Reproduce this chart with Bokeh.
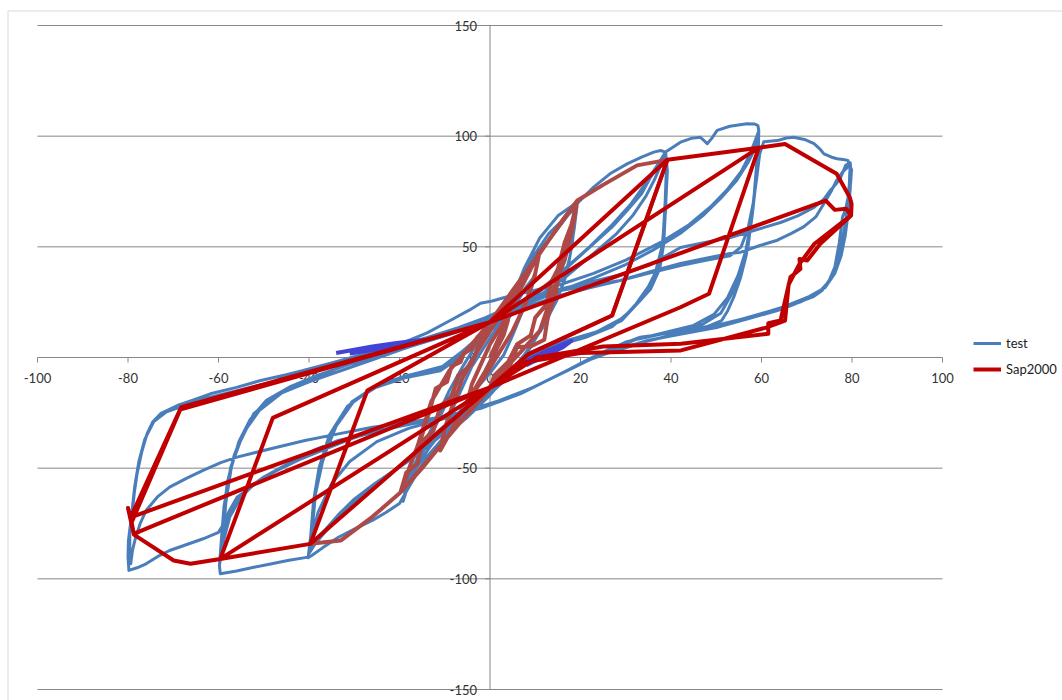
from bokeh.plotting import figure
from bokeh.models import Range1d, Legend, LegendItem
from bokeh.core.properties import value
from bokeh.embed import file_html
from bokeh.resources import INLINE

# ---------------- axis ticks ----------------
x_ticks = [-100, -80, -60, -40, -20, 0, 20, 40, 60, 80, 100]
y_ticks = [-150, -100, -50, 0, 50, 100, 150]

# ---------------- test record (displacement, force) ----------------
test_small = [
    (0, 0), (2, 9), (4, 17), (6, 25), (8, 32), (10, 37), (9, 30), (7, 20), (5, 10), (3, 1),
    (0, -7), (-3, -14), (-6, -22), (-8, -29), (-10, -35), (-9.5, -30), (-8, -22), (-6, -13), (-4, -4), (-1.5, 4),
    (1, 12), (3, 19), (5, 27), (7.5, 40), (11, 54), (15, 64), (18.5, 69), (19.2, 68), (18.6, 58), (17.6, 45),
    (15.8, 31), (12.5, 17), (8.5, 3), (4.5, -8), (0, -16), (-5, -22), (-9, -29), (-12.4, -35), (-15, -43), (-16.8, -50),
    (-18.3, -59), (-19.2, -65), (-18.2, -56), (-15.6, -46), (-12.5, -33), (-9.5, -20), (-6.5, -9), (-3.5, 1), (-0.5, 10), (2.5, 20),
    (5.5, 31), (9, 44), (13, 56), (16.5, 63), (18.6, 67), (18.9, 64), (18.2, 52), (17, 38), (14.8, 26), (11.5, 13),
    (7.5, 1), (3.5, -9), (-1, -17), (-6, -24), (-10.5, -33), (-13.5, -41), (-16, -49), (-18, -56), (-18.9, -61), (-18, -54),
    (-15.2, -42), (-12, -28), (-9, -15), (-6, -4), (-3, 6), (0, 14),
]

test_40 = [
    (3, 24), (7, 36), (11, 48), (15.6, 60), (19, 69), (22.9, 77), (26.5, 83), (30.3, 87.5), (33.5, 90.5), (36.2, 92.8),
    (37.7, 93.5), (38.8, 92.8),
    (39.2, 84.5), (38.8, 68), (38.4, 51.4), (37.5, 40), (35.5, 31), (33.2, 25.8), (29.1, 16.7), (22.5, 10.7),
    (14.3, 6.2), (8, 0), (3, -10), (0, -17), (-5, -27), (-9.5, -34.5), (-14, -45), (-17.5, -57), (-20, -66), (-23, -70),
    (-26, -73.6), (-30, -77.5), (-33.5, -81.2), (-37, -86), (-39.4, -89.5), (-40.2, -90.5),
    (-39.6, -80), (-39, -65), (-37.8, -50), (-35.5, -35), (-31.5, -22), (-26, -14), (-18.5, -9), (-11, -6), (-6, 1), (-2, 8),
    (1, 14), (5, 20), (10, 28), (15.6, 38), (22.9, 51.4), (27, 59), (30.3, 66.4), (33.5, 74), (35.5, 81.5), (37.3, 87.5),
    (38.5, 91.5),
    (39, 86), (38.7, 70), (38.2, 52), (37.2, 41), (35, 32), (31.5, 22), (27, 14), (21, 9), (14, 5), (8, -1),
    (3, -10), (0, -16), (-4, -24), (-9.5, -33), (-15.4, -43), (-21, -51), (-26, -58.6), (-30, -65), (-33.5, -72.2), (-36.5, -79),
    (-38.7, -84.3), (-39.8, -88),
    (-39.3, -78), (-38.6, -62), (-37, -47), (-34.5, -32), (-30.5, -20), (-25, -12.5), (-18, -8), (-11, -5), (-6, 2), (-2, 9),
    (1.5, 15), (6, 21), (11, 28), (16.5, 36), (23.5, 48), (28, 56), (31.5, 64), (34.5, 73), (36.5, 81), (38, 88),
    (38.8, 91.5),
    (39.1, 84), (38.8, 66), (38, 50), (36.5, 38), (34, 28), (29.5, 18), (23.5, 11.5), (15, 6.5), (9, 1), (4, -9),
    (0.5, -15.5), (-4, -23), (-9, -31.5), (-14.5, -41.5), (-20.5, -50), (-25.5, -57), (-30, -64), (-33.5, -71), (-36.5, -78), (-38.5, -83),
    (-39.6, -86.5),
    (-39.2, -76), (-38.5, -60), (-36.8, -45), (-34, -31), (-30, -19.5), (-24, -12), (-17, -7.5), (-10.5, -4),
]

test_60 = [
    (-6, 3), (-2, 10), (2, 16), (7, 24), (12, 32), (16.5, 40), (22, 50), (27, 60), (31, 69), (34.5, 79),
    (37, 87), (38.8, 92.8), (42.1, 97.3), (44.5, 99), (46.5, 99.5), (48, 96.6), (49, 99), (50.2, 102.6), (53, 104.5), (56.8, 105.6),
    (58.5, 105.5), (59.2, 104.8), (59.4, 102.6),
    (59.2, 95), (59, 89), (58.4, 74), (57.6, 59), (56.6, 46), (55.4, 36.3), (54, 28), (52.5, 21), (51.2, 16.7), (48, 14),
    (43.8, 12.2), (33.2, 9.2), (27, 4.5), (21.5, -1.4), (14.1, -8.9), (6.7, -16.4), (0, -21), (-5, -25), (-11, -28), (-18, -32),
    (-25, -38), (-31, -47), (-35, -57), (-38, -70), (-39.5, -82), (-40.2, -90.2), (-44.7, -91.7), (-48.5, -93.3), (-52.2, -94.8), (-56, -96.5),
    (-59.6, -97.7),
    (-59.8, -94), (-59.6, -88.7), (-59.2, -78), (-58.8, -67.6), (-57.3, -49.6), (-55.1, -37.5), (-52.2, -25.4), (-47, -16.4), (-39.7, -10.4), (-35, -6),
    (-30, -1), (-25, 3), (-20, 6), (-14, 11), (-8.8, 16.7), (-4.5, 21.5), (-2.1, 24.5), (0.5, 25.5), (3, 27), (8, 29.5),
    (15.6, 33), (22.9, 38), (30, 44), (37.7, 52), (44, 60), (48.7, 68), (52.5, 76), (55.5, 84), (57.5, 92), (58.8, 99),
    (59.4, 102.5),
    (59.3, 94), (58.8, 80), (58, 65), (57, 50), (55.5, 39), (53.5, 29), (51, 20), (47, 15), (40, 11.5), (32, 8),
    (24, 1), (17, -6), (10, -13), (3, -19), (-2, -23), (-8, -26), (-15, -29), (-22, -32), (-28, -35), (-33.5, -37.5),
    (-39, -42), (-44.7, -48), (-49, -53), (-52.5, -58), (-55.9, -63.1), (-57.8, -70), (-58.9, -78.2), (-59.5, -86), (-59.7, -93),
    (-59.4, -85), (-58.9, -70), (-58, -56), (-56.5, -44), (-54.5, -34), (-51, -24), (-46, -16), (-40, -11), (-33, -6), (-26, -1),
    (-19, 4), (-11, 9.5), (-4, 14.5), (2, 19), (9, 25), (16, 30.5), (23, 36), (30, 42), (36, 48.5), (42, 56),
    (47, 64), (51, 72), (54.5, 80), (57, 88), (58.7, 95), (59.3, 99),
    (59.1, 90), (58.6, 76), (57.8, 62), (56.5, 48), (54.8, 37), (52.5, 27), (49.5, 19.5), (45, 14.5), (38, 11), (30, 7),
    (22.5, 0), (15.5, -7.5), (8.5, -14.5), (2, -20), (-4, -24), (-11, -27), (-19, -30.5), (-26, -33.5), (-31, -37), (-36, -41),
    (-42, -46), (-47.5, -51.5), (-52, -57), (-55, -63), (-57.5, -72), (-58.8, -82), (-59.4, -91),
    (-59, -82), (-58.4, -66), (-57.2, -50), (-55.5, -38), (-53, -28), (-49.5, -19.5), (-44, -13), (-38, -8), (-31, -3),
]

test_80 = [
    (-24, 1), (-16, 6), (-8, 11), (0, 17), (8, 23), (15.6, 28), (22, 31.5), (28.8, 34.8), (35, 38), (42.1, 41.6),
    (48, 44), (53.1, 46), (55.5, 50), (57, 58), (58.2, 70), (59, 82), (59.6, 92), (60.5, 97.5), (63.5, 98), (65.5, 99.2),
    (67.1, 99.5), (69.5, 98.5), (71.6, 96.6), (73, 94), (73.8, 92), (75.5, 90.5), (76.7, 89.8), (78, 89.5), (79.1, 89), (79.6, 86),
    (79.5, 83),
    (79.4, 78), (79.1, 72), (78.6, 67), (77.9, 63.4), (77.2, 52), (76.2, 40.8), (75, 35), (73.4, 30.3), (71.5, 27.5), (69.3, 25.8),
    (66.5, 23.5), (63.5, 21.2), (57, 17.5), (50.4, 13.7), (42, 10.5), (34.8, 7.7), (28, 3.5), (21.5, -1.4), (14.1, -8.9), (6.7, -16.4),
    (0, -21.5), (-11, -27), (-20, -31), (-28, -35), (-33.5, -38), (-40, -43), (-44.7, -48), (-50, -54), (-54, -60), (-56.5, -66),
    (-58.5, -74), (-60, -79), (-63.4, -81.9), (-67, -84.5), (-70.8, -87.2), (-73.5, -90), (-76, -93.2), (-78, -95), (-79.8, -96.2),
    (-80, -90), (-79.9, -82.7), (-79.5, -76), (-79.1, -70.6), (-78.6, -61), (-78, -52.6), (-77, -43), (-75.8, -34.5), (-74.5, -29), (-72.8, -25.4),
    (-69.1, -21.7), (-66, -19.5), (-61.8, -16.4), (-56, -13.5), (-50.7, -10.4), (-45, -7.8), (-39.7, -5.1), (-33, -1.4), (-26, 2), (-20, 5),
    (-14, 8.5), (-8, 12), (-3, 15.5), (0, 18), (5, 22), (10, 26), (15.6, 30.3), (22, 32.5), (28.8, 34.8), (35, 38.5),
    (42.1, 42.5), (48, 45), (53.1, 47), (55.3, 47.5), (59.5, 50.5), (63.5, 53), (66.5, 56), (69.3, 59), (72, 63.5), (74.2, 70.9),
    (75.5, 75.5), (76.6, 80), (78, 84), (79.3, 86.5), (79.9, 85),
    (79.7, 79), (79.3, 72), (78.7, 63), (77.8, 52), (76.8, 42), (75.2, 35), (72.5, 29), (68.5, 25), (62, 21), (55, 17),
    (47, 12.5), (38, 9), (30, 5), (23, 0), (16, -7), (9, -14), (2, -19.5), (-5, -24), (-11, -27), (-18.5, -29.5),
    (-26, -31.5), (-33.5, -34.5), (-40.9, -37.5), (-48, -41), (-55.9, -45), (-59.5, -47.5), (-63.4, -51), (-67, -54.5), (-70.8, -58.6), (-73.5, -63),
    (-76, -69.1), (-77.3, -75), (-78.3, -81.2), (-79, -87), (-79.4, -93.2),
    (-79.6, -88), (-79.6, -80), (-79.2, -71), (-78.5, -58), (-77.6, -47), (-76.3, -37), (-74.3, -29), (-71.5, -24.5), (-67.8, -22), (-62, -18),
    (-55, -14.5), (-48, -11), (-41.5, -6), (-35, -2.5), (-28, 1.5), (-21, 5), (-14, 9), (-7, 13.5), (-1, 18), (5, 23.5),
    (10, 27), (15.6, 31), (22, 34), (29, 37.5), (35.5, 42), (42.1, 49.7), (47.5, 52), (53.1, 54.2), (58.5, 57.5), (64.2, 61),
    (68, 64), (71.6, 67.8), (73.8, 71.5), (75.2, 75.5), (76.5, 78.5), (77.5, 81.3), (78.6, 86.8), (79.6, 88),
    (79.8, 84), (79.6, 76), (79.2, 66), (78.5, 55), (77.6, 46), (76.2, 38), (74, 31.5), (70.5, 27.5), (65, 23), (58, 18.5),
    (50, 14.5), (42, 11), (34, 7), (27, 2.5),
]

# low-force excursions of the test record
test_low_left = [(-34, 2), (-30, 3.5), (-26, 5), (-21, 6.5), (-17, 7.5), (-14.5, 8),
                 (-17.5, 6), (-22, 4.5), (-27, 3), (-31, 1.8)]
test_low_right = [(6.5, -3.5), (9, -0.5), (12, 2.5), (15, 5), (18, 7.5),
                  (16, 4.5), (13, 1.5), (10, -1.5), (8, -3.5)]

# ---------------- Sap2000 model (displacement, force) ----------------
sap_early = [
    (0, 0), (2, 9), (4, 17), (3, 10), (1, 2), (-1, -6), (-3, -13), (-5, -20), (-4, -12), (-2, -3),
    (0, 6), (3, 16), (6, 28), (9, 40), (11, 48), (10, 38), (8, 25), (5, 12), (2, 2), (-1, -8),
    (-5, -20), (-8, -31), (-11, -42), (-10, -32), (-8, -20), (-6, -9), (-3, 2), (0, 12),
    (4, 25), (8, 38), (12, 50), (16, 62), (19.3, 70.9), (18.2, 58), (16.5, 44), (15, 36), (14.5, 28), (13, 20),
    (12.6, 16), (12, 8), (9, 5), (6, 4.7), (4, -6), (0, -14), (-6, -28), (-11, -40), (-15, -50), (-19.8, -61),
    (-17.5, -48), (-15, -35), (-13.1, -22.5), (-12, -14), (-9.5, -11), (-8.5, -4), (-6.5, -2), (-5.8, 1.8), (-4, 4), (-2.8, 9.2),
    (-1, 12), (0, 16), (19.3, 70.9), (17, 50), (14, 30), (11, 12), (7, 3), (2, -8), (0, -13.5), (-19.8, -61),
    (-16, -40), (-13, -20), (-9, -6), (-4, 6), (0, 16), (19.3, 70.9),
    (18, 60), (16.5, 52), (15, 40), (13.5, 34), (12.5, 24), (10, 18), (9, 10), (6, 6), (4, -2), (1, -8),
    (0, -13.5), (-19.8, -61), (-18.5, -52), (-16, -48), (-15, -38), (-12.5, -33), (-11, -22), (-8.5, -18), (-7, -8), (-4, -3),
    (-2.5, 6), (0, 16), (19.3, 70.9), (25, 78), (32.5, 86.8), (39.2, 89.3),
    (27, 19), (8.5, 1.5), (0, -13.5), (-19.8, -61), (-26, -72), (-33, -82.7), (-39.7, -84.2),
]

sap_main = [
    (-39.7, -84.2), (-27.1, -14.9), (0, 16), (39.2, 89.3), (27, 19), (8.5, 1.5), (0, -13.5), (-39.7, -84.2),
    (-27.1, -14.9), (0, 16), (39.2, 89.3), (59.4, 94.8), (48.4, 28.8), (42.1, 22.7), (0, -13.5), (-39.7, -84.2),
    (-59.6, -91), (-48, -27.3), (0, 16), (59.4, 94.8), (48.4, 28.8), (42.1, 22.7), (0, -13.5), (-59.6, -91),
    (-66.2, -93.2), (-69.9, -91.7), (-78.7, -80), (-80, -68), (-79.4, -72.2), (-68.2, -22.4), (0, 16), (59.4, 94.8),
    (65.2, 96.5), (76.6, 83), (79.5, 72.4), (79.9, 69.4), (79.8, 64.2), (73, 51.4), (70.1, 43.8), (68.4, 44.5),
    (68.6, 40), (66.4, 36.3), (64.2, 16.7), (61.5, 15.5), (61.5, 10.7), (42.2, 6.2), (25, 5), (10.4, 0),
    (0, -13.5), (-76.1, -77.4), (-78.7, -79.7), (-79.2, -74.5), (-68.2, -22.4), (0, 16), (74.2, 70.9), (76.2, 66.7),
    (78.7, 67.2), (79.8, 64.2), (71.7, 51.4), (68.4, 42.3), (66, 33), (65.2, 16.7), (61, 13.5), (42.2, 3.2),
    (20, 2), (8, -2), (0, -13.5), (-79.4, -72.2), (-68.5, -23.5), (0, 16),
]


def split_xy(pairs):
    return [d for d, _ in pairs], [f for _, f in pairs]


test_x, test_y = split_xy(test_small + test_40 + test_60 + test_80)
low_lx, low_ly = split_xy(test_low_left)
low_rx, low_ry = split_xy(test_low_right)
early_x, early_y = split_xy(sap_early)
main_x, main_y = split_xy(sap_main)

# ---------------- page geometry ----------------
W, H = 1062, 700
PX_X = 905 / 200.0      # pixels per displacement unit
PX_Y = 664 / 300.0      # pixels per force unit
X_START = -100 - 37 / PX_X
X_END = 100 + (W - 942) / PX_X
Y_END = 150 + 25 / PX_Y
Y_START = -150 - (H - 689) / PX_Y

p = figure(width=W, height=H, x_range=Range1d(X_START, X_END), y_range=Range1d(Y_START, Y_END),
           x_axis_type=None, y_axis_type=None, toolbar_location=None, output_backend="svg",
           min_border=0, outline_line_color=None, background_fill_color="white",
           border_fill_color="white")

GRID = "#868686"
LABEL = "#333333"

# chart-area border (top and left edges)
bx = X_START + 7.5 / PX_X
by = Y_END - 10.5 / PX_Y
p.segment(x0=[bx, bx], y0=[by, by], x1=[bx, X_END + 5], y1=[Y_START - 5, by],
          line_color="#d9d9d9", line_width=1)

# horizontal gridlines
grid_y = [v for v in y_ticks if v != 0]
p.segment(x0=[x_ticks[0]] * len(grid_y), y0=grid_y, x1=[x_ticks[-1]] * len(grid_y), y1=grid_y,
          line_color=GRID, line_width=1)

# axes crossing at the origin
p.segment(x0=[x_ticks[0], 0], y0=[0, y_ticks[0]], x1=[x_ticks[-1], 0], y1=[0, y_ticks[-1]],
          line_color=GRID, line_width=1)
p.segment(x0=x_ticks, y0=[0] * len(x_ticks), x1=x_ticks, y1=[-5 / PX_Y] * len(x_ticks),
          line_color=GRID, line_width=1)
p.segment(x0=[0] * len(y_ticks), y0=y_ticks, x1=[-5 / PX_X] * len(y_ticks), y1=y_ticks,
          line_color=GRID, line_width=1)

# tick labels
p.text(x=x_ticks, y=[0] * len(x_ticks), text=[str(v) for v in x_ticks],
       text_align="center", text_baseline="middle", y_offset=20,
       text_font=value("Lato"), text_font_size="13px", text_color=LABEL)
p.text(x=[0] * len(y_ticks), y=y_ticks, text=[str(v) for v in y_ticks],
       text_align="right", text_baseline="middle", x_offset=-13,
       text_font=value("Lato"), text_font_size="13px", text_color=LABEL)

# series
r_test = p.line(test_x, test_y, line_color="#4A7EBB", line_width=3, line_join="round")
p.line(low_lx, low_ly, line_color="#4343D6", line_width=4, line_join="round")
p.line(low_rx, low_ry, line_color="#4343D6", line_width=4, line_join="round")
p.line(early_x, early_y, line_color="#AD4A48", line_width=4, line_join="round")
r_sap = p.line(main_x, main_y, line_color="#C00000", line_width=4, line_join="round")

legend = Legend(items=[LegendItem(label="test", renderers=[r_test]),
                       LegendItem(label="Sap2000", renderers=[r_sap])],
                location=(973, 321), orientation="vertical",
                padding=0, margin=0, spacing=6, glyph_width=28, glyph_height=20,
                label_height=20, label_standoff=5,
                label_text_font="Lato", label_text_font_size="13px", label_text_color="#222222",
                border_line_color=None, background_fill_alpha=0)
p.add_layout(legend)

open("out.html", "w").write(file_html(p, INLINE))
